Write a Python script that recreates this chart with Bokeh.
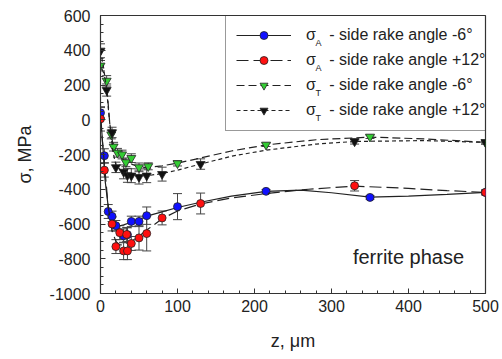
from bokeh.plotting import figure
from bokeh.models import (Range1d, SingleIntervalTicker, ColumnDataSource, Whisker, TeeHead,
                          Legend, LegendItem, Label, CustomJSTickFormatter)
from bokeh.embed import file_html
from bokeh.resources import INLINE

# ---- data ----
blue_z = [0, 5, 10, 15, 20, 30, 35, 40, 50, 60, 100, 215, 350, 500]
blue_s = [40, -207, -528, -556, -610, -668, -662, -585, -585, -552, -500, -412, -447, -418]
blue_e = [30, 40, 40, 30, 30, 40, 40, 30, 30, 50, 75, 10, 10, 10]

red_z = [0, 5, 15, 20, 25, 30, 34, 35, 40, 50, 60, 80, 130, 330, 500]
red_s = [5, -290, -600, -730, -650, -755, -660, -755, -712, -680, -655, -565, -482, -380, -418]
red_e = [70, 40, 40, 40, 40, 50, 40, 50, 40, 70, 100, 40, 60, 30, 15]

green_z = [0, 8, 14, 17, 22, 28, 33, 40, 50, 62, 100, 215, 350, 500]
green_s = [311, 224, -85, -155, -190, -200, -245, -221, -274, -268, -251, -144, -98, -130]
green_e = [30, 30, 25, 25, 25, 25, 25, 25, 25, 20, 15, 10, 10, 10]

black_z = [0, 8, 15, 20, 30, 35, 40, 50, 60, 80, 130, 330, 500]
black_s = [397, 171, -73, -274, -300, -320, -322, -330, -322, -313, -255, -125, -130]
black_e = [40, 35, 30, 30, 40, 40, 40, 40, 40, 40, 30, 15, 10]

# smoothed curves as drawn in the picture
blue_fz = [0, 3, 6, 10, 15, 20, 25, 30, 40, 50, 60, 80, 100, 130, 170, 215, 260, 300, 350, 400, 450, 500]
blue_fs = [40, -150, -350, -500, -570, -600, -610, -605, -590, -575, -555, -530, -505, -475, -440, -412, -405, -420, -445, -440, -430, -418]

red_fz = [0, 3, 6, 10, 15, 20, 25, 30, 40, 50, 60, 80, 100, 130, 170, 215, 270, 330, 400, 450, 500]
red_fs = [5, -150, -300, -500, -640, -700, -720, -720, -700, -670, -635, -570, -525, -485, -450, -425, -400, -382, -395, -408, -418]

green_fz = [0, 4, 8, 12, 16, 20, 30, 40, 50, 60, 80, 100, 130, 170, 215, 280, 350, 420, 500]
green_fs = [311, 270, 200, -20, -140, -185, -230, -255, -270, -275, -265, -250, -220, -180, -145, -115, -100, -110, -130]

black_fz = [0, 4, 8, 12, 16, 20, 30, 40, 50, 60, 80, 100, 130, 170, 215, 280, 330, 420, 500]
black_fs = [397, 300, 170, -20, -180, -260, -310, -325, -325, -322, -310, -290, -255, -210, -175, -140, -125, -120, -130]

labels = ["σ   - side rake angle -6°", "σ   - side rake angle +12°",
          "σ   - side rake angle -6°", "σ   - side rake angle +12°"]
subs = ["A", "A", "T", "T"]

FONT = "Liberation Sans"

p = figure(width=502, height=359, output_backend="svg", toolbar_location=None,
           x_range=Range1d(0, 500), y_range=Range1d(-1000, 600),
           min_border_left=100, min_border_right=17, min_border_top=15, min_border_bottom=66)
p.xgrid.visible = False
p.ygrid.visible = False
p.outline_line_color = "#333333"
p.outline_line_width = 1.2
p.background_fill_color = "white"
p.border_fill_color = "white"

p.xaxis.ticker = SingleIntervalTicker(interval=100, num_minor_ticks=5)
p.yaxis.ticker = SingleIntervalTicker(interval=200, num_minor_ticks=4)
p.yaxis.formatter = CustomJSTickFormatter(code="return tick.toString();")
for ax in (p.xaxis[0], p.yaxis[0]):
    ax.major_tick_in = 5
    ax.major_tick_out = 0
    ax.minor_tick_in = 3
    ax.minor_tick_out = 0
    ax.axis_line_color = "#333333"
    ax.major_tick_line_color = "#333333"
    ax.minor_tick_line_color = "#333333"
    ax.major_label_text_font = FONT
    ax.major_label_text_font_size = "16px"
    ax.major_label_text_color = "#222222"
    ax.axis_label_text_font = FONT
    ax.axis_label_text_font_size = "18px"
    ax.axis_label_text_font_style = "normal"
    ax.axis_label_text_color = "#222222"
p.xaxis.axis_label = "z, μm"
p.yaxis.axis_label = "σ, MPa"
p.xaxis.major_label_standoff = 6
p.yaxis.major_label_standoff = 10
p.xaxis.axis_label_standoff = 16
p.yaxis.axis_label_standoff = 12

series = [
    (blue_z, blue_s, blue_e, blue_fz, blue_fs, "#1010ff", "circle", "solid", 8),
    (red_z, red_s, red_e, red_fz, red_fs, "#ff1010", "circle", "12 5", 8),
    (green_z, green_s, green_e, green_fz, green_fs, "#33cc33", "inverted_triangle", "8 4", 9),
    (black_z, black_s, black_e, black_fz, black_fs, "#111111", "inverted_triangle", "4 3", 9),
]

items = []
for i, (z, s, e, fz, fs, col, mk, dash, sz) in enumerate(series):
    lr = p.line(fz, fs, line_color="#222222", line_width=1.2, line_dash=dash)
    src = ColumnDataSource(dict(z=z, s=s, up=[a + b for a, b in zip(s, e)],
                                lo=[a - b for a, b in zip(s, e)]))
    w = Whisker(base="z", upper="up", lower="lo", source=src, line_color="#444444",
                line_width=1,
                upper_head=TeeHead(size=9, line_color="#444444", line_width=1),
                lower_head=TeeHead(size=9, line_color="#444444", line_width=1))
    p.add_layout(w)
    sr = p.scatter("z", "s", source=src, marker=mk, size=sz, fill_color=col,
                   line_color="#222222", line_width=0.8)
    items.append(LegendItem(label=labels[i], renderers=[lr, sr]))

legend = Legend(items=items, location=(125, 162), padding=10, spacing=5,
                glyph_width=55, glyph_height=20, label_height=20, label_standoff=15,
                label_text_font=FONT, label_text_font_size="16px", label_text_color="#222222",
                border_line_color="#333333", border_line_width=1.2,
                background_fill_alpha=0.0, margin=0)
p.add_layout(legend)

for i, t in enumerate(subs):
    p.add_layout(Label(x=215, y=251 - 25 * i, x_units="screen", y_units="screen",
                       text=t, text_font=FONT, text_font_size="9px", level="overlay",
                       text_color="#222222", text_baseline="middle"))

p.add_layout(Label(x=400, y=-790, text="ferrite phase", text_font=FONT,
                   text_font_size="20px", text_color="#222222",
                   text_align="center", text_baseline="middle"))

open("out.html", "w").write(file_html(p, INLINE))
